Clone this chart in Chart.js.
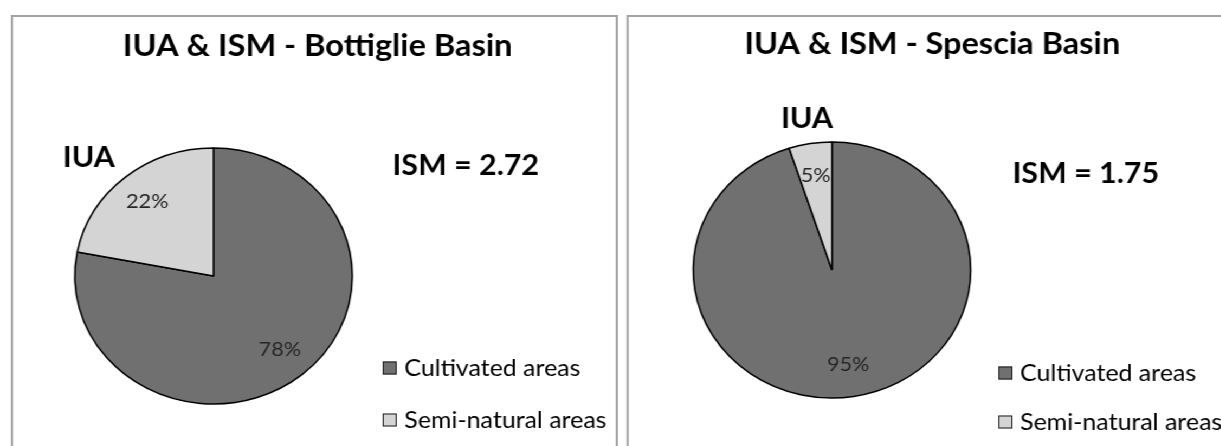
<!DOCTYPE html>
<html>
<head>
<meta charset="utf-8">
<title>IUA & ISM</title>
<script src="https://cdn.jsdelivr.net/npm/chart.js@4.4.1/dist/chart.umd.min.js"></script>
<style>
  html, body { margin: 0; padding: 0; background: #fff; width: 1221px; height: 446px; overflow: hidden; }
  /* the source figure is stretched horizontally, so the whole stage is too */
  #stage { position: absolute; left: 0; top: 0; width: 1127px; height: 446px; transform: scaleX(1.084); transform-origin: 0 0; overflow: hidden; }
  .panel { position: absolute; top: 15px; height: 560px; border: 2px solid #a3a3a3; background: #fff; overflow: hidden; }
  #p1 { left: 9.5px; width: 556px; }
  #p2 { left: 578px; width: 580px; }
  canvas { position: absolute; left: 0; top: 0; }
</style>
</head>
<body>
<div id="stage">
  <div class="panel" id="p1"><canvas id="chart1" width="556" height="540"></canvas></div>
  <div class="panel" id="p2"><canvas id="chart2" width="556" height="540"></canvas></div>
</div>
<script>
// data
const categories = ['Cultivated areas', 'Semi-natural areas'];
const basins = ['Bottiglie Basin', 'Spescia Basin'];
const bottiglieShares = [78, 22];
const spesciaShares = [95, 5];
const ismValues = ['2.72', '1.75'];

const colors = ['#707070', '#d4d4d4'];

// where things sit inside each canvas (unstretched px)
const layouts = [
  { center: [185, 259], title: [281, 39], iua: [46, 150], ism: [350, 158], legend: [341, 351], rowGap: 52 },
  { center: [187.5, 253], title: [280, 37], iua: [140.5, 111], ism: [354, 166], legend: [341, 356], rowGap: 49 }
];

const overlay = {
  id: 'overlay',
  afterDatasetsDraw(chart, args, opts) {
    const ctx = chart.ctx;
    const pos = opts.pos;
    const ds = chart.data.datasets[0];
    ctx.save();

    ctx.fillStyle = '#000';
    ctx.font = 'bold 30px Lato';
    ctx.textBaseline = 'alphabetic';
    ctx.textAlign = 'center';
    ctx.fillText(opts.title, pos.title[0], pos.title[1]);
    ctx.font = 'bold 28px Lato';
    ctx.textAlign = 'left';
    ctx.fillText('IUA', pos.iua[0], pos.iua[1]);
    ctx.fillText('ISM = ' + opts.ism, pos.ism[0], pos.ism[1]);

    // slice labels
    ctx.font = '20px Lato';
    ctx.fillStyle = '#262626';
    ctx.textAlign = 'center';
    ctx.textBaseline = 'middle';
    chart.getDatasetMeta(0).data.forEach((arc, i) => {
      const p = arc.getProps(['x', 'y', 'startAngle', 'endAngle', 'outerRadius'], true);
      const mid = (p.startAngle + p.endAngle) / 2;
      const r = p.outerRadius * 0.75;
      ctx.fillText(ds.data[i] + '%', p.x + Math.cos(mid) * r, p.y + Math.sin(mid) * r);
    });

    // legend
    ctx.font = '23px Lato';
    ctx.textAlign = 'left';
    ctx.lineWidth = 1;
    chart.data.labels.forEach((lab, i) => {
      const x = pos.legend[0], y = pos.legend[1] + i * pos.rowGap;
      ctx.fillStyle = ds.backgroundColor[i];
      ctx.fillRect(x, y - 6.5, 13, 13);
      ctx.strokeStyle = '#1a1a1a';
      ctx.strokeRect(x + 0.5, y - 6, 12, 12);
      ctx.fillStyle = '#000';
      ctx.fillText(lab, x + 20, y + 1);
    });
    ctx.restore();
  }
};

function makePie(canvasId, shares, idx) {
  const canvas = document.getElementById(canvasId);
  const L = layouts[idx];
  return new Chart(canvas, {
    type: 'pie',
    data: {
      labels: categories,
      datasets: [{
        data: shares,
        backgroundColor: colors,
        borderColor: '#000',
        borderWidth: 1.5
      }]
    },
    options: {
      responsive: false,
      animation: false,
      devicePixelRatio: 1,
      events: [],
      radius: 128,
      layout: {
        padding: { left: 0, top: 0, right: canvas.width - 2 * L.center[0], bottom: canvas.height - 2 * L.center[1] }
      },
      plugins: {
        legend: { display: false },
        tooltip: { enabled: false },
        overlay: { title: 'IUA & ISM - ' + basins[idx], ism: ismValues[idx], pos: L }
      }
    },
    plugins: [overlay]
  });
}

makePie('chart1', bottiglieShares, 0);
makePie('chart2', spesciaShares, 1);
</script>
</body>
</html>
